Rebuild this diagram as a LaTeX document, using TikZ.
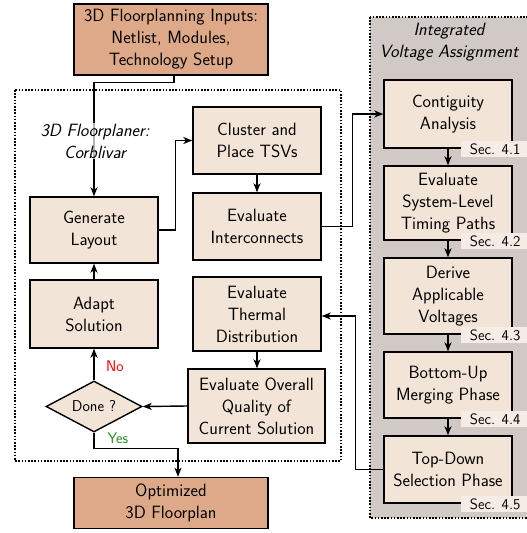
\documentclass[tikz,border=0pt]{standalone}
\usetikzlibrary{arrows.meta,shapes.geometric}
\definecolor{darkbox}{RGB}{222,169,136}
\definecolor{lightbox}{RGB}{243,228,216}
\definecolor{greybg}{RGB}{209,201,197}
\definecolor{seclight}{RGB}{245,236,230}
\definecolor{yesgreen}{RGB}{30,145,30}
\begin{document}
\begin{tikzpicture}[x=1pt,y=-1pt,
  every node/.style={font=\sffamily\fontsize{17.8}{22}\selectfont},
  lbox/.style={draw, line width=1.4pt, fill=lightbox, align=center, inner sep=0pt, minimum width=128pt},
  dbox/.style={draw, line width=1.4pt, fill=darkbox, align=center, inner sep=0pt, minimum width=194pt},
  seclbl/.style={fill=seclight, inner sep=0pt, minimum width=68pt, minimum height=16pt, font=\sffamily\fontsize{15}{16}\selectfont},
  arr/.style={line width=1.4pt, -{Stealth[length=9pt,width=7pt,inset=2.5pt]}},
  dotframe/.style={line width=1.6pt, dash pattern=on 1.6pt off 1.6pt},
  lbl/.style={align=center, font=\sffamily\itshape\fontsize{17.8}{22}\selectfont}
]
\useasboundingbox (0,0) rectangle (527,533);
% frames
\draw[dotframe, fill=greybg] (370,17) rectangle (532,518);
\draw[dotframe] (15,90) rectangle (341,461);
\node[lbl] (iva) at (449,42) {Integrated\\Voltage Assignment};

% main left nodes
\node[dbox, minimum height=71pt] (inp) at (171,39.5) {3D Floorplanning Inputs:\\Netlist, Modules,\\Technology Setup};
\node[lbox, minimum height=66pt] (gen) at (94,230) {Generate\\Layout};
\node[lbox, minimum height=68pt] (adapt) at (94,314) {Adapt\\Solution};
\node[diamond, draw, line width=1.4pt, fill=lightbox, inner sep=0pt, aspect=1.88, minimum width=96pt, minimum height=51pt, font=\sffamily\fontsize{15.7}{18}\selectfont] (done) at (94,406.5) {Done ?};
\node[dbox, minimum height=51pt] (opt) at (171,503) {Optimized\\3D Floorplan};
\node[lbox, minimum height=67pt] (clu) at (257,140.5) {Cluster and\\Place TSVs};
\node[lbox, minimum height=67pt] (ein) at (257,226.5) {Evaluate\\Interconnects};
\node[lbox, minimum height=74pt] (eth) at (257,314) {Evaluate\\Thermal\\Distribution};
\node[lbox, minimum width=137pt, minimum height=74pt] (eov) at (256.5,406) {Evaluate Overall\\Quality of\\Current Solution};

% right column
\node[lbox, minimum height=68pt] (con) at (448,114) {Contiguity\\Analysis};
\node[lbox, minimum height=74pt] (tim) at (448,203) {Evaluate\\System-Level\\Timing Paths};
\node[lbox, minimum height=76pt] (der) at (448,296) {Derive\\Applicable\\Voltages};
\node[lbox, minimum height=66pt] (bot) at (448,385) {Bottom-Up\\Merging Phase};
\node[lbox, minimum height=67pt] (top) at (448,469.5) {Top-Down\\Selection Phase};

\node[seclbl, anchor=north west] (s1) at (461,141) {Sec. 4.1};
\node[seclbl, anchor=north west] (s2) at (461,233) {Sec. 4.2};
\node[seclbl, anchor=north west] (s3) at (461,327) {Sec. 4.3};
\node[seclbl, anchor=north west] (s4) at (461,411) {Sec. 4.4};
\node[seclbl, anchor=north west] (s5) at (461,496) {Sec. 4.5};

% connectors
\draw[arr] ([xshift=3pt]inp.south) -- ++(0,7) -| (gen.north);
\node[lbl, fill=white, fill opacity=0.7, text opacity=1, inner sep=1pt] (flp) at (95,141) {3D Floorplaner:\\Corblivar};
\draw[arr] (gen.east) -- ++(17,0) |- (clu.west);
\draw[arr] (clu.south) -- (ein.north);
\draw[arr] (ein.east) -- ++(31,0) |- (con.west);
\draw[arr] (con.south) -- (tim.north);
\draw[arr] (tim.south) -- (der.north);
\draw[arr] (der.south) -- (bot.north);
\draw[arr] (bot.south) -- (top.north);
\draw[arr] (top.west) -- ++(-28,0) |- ([yshift=-2pt]eth.east);
\draw[arr] (eth.south) -- (eth.south |- eov.north);
\draw[arr] (eov.west) -- (done.east);
\draw[arr] (done.north) -- node[right=8pt, pos=0.45, text=red, font=\sffamily\fontsize{15.5}{18}\selectfont] (no) {No} (adapt.south);
\draw[arr] (adapt.north) -- (gen.south);
\draw[arr] (done.south) -- ++(0,16) -| ([xshift=7pt]opt.north);
\node[text=yesgreen, font=\sffamily\fontsize{15.5}{18}\selectfont] (yes) at (118,438) {Yes};
\end{tikzpicture}
\end{document}
